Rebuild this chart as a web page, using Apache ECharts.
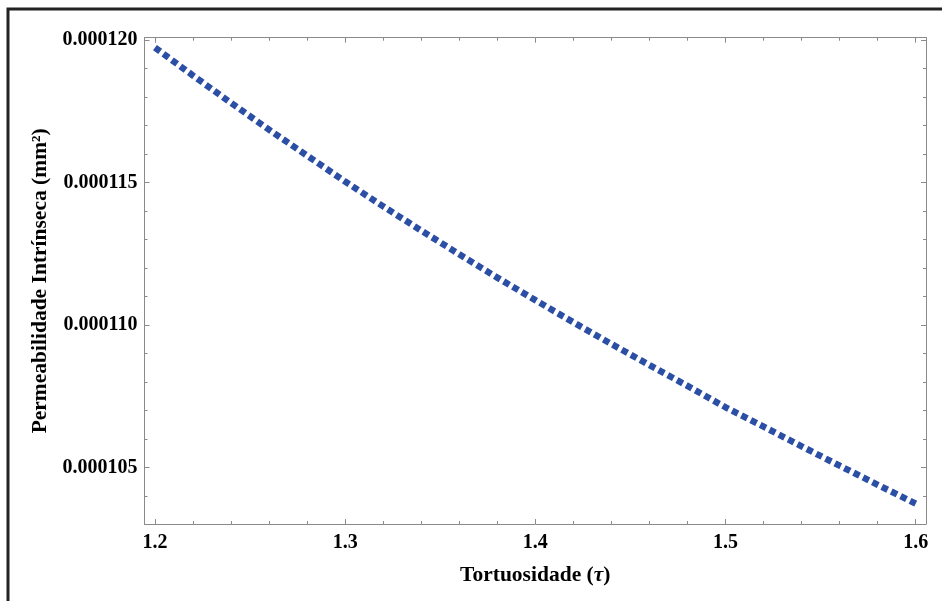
<!DOCTYPE html>
<html>
<head>
<meta charset="utf-8">
<script src="https://cdn.jsdelivr.net/npm/echarts@6/dist/echarts.min.js"></script>
<style>
  html, body { margin: 0; padding: 0; background: #fff; }
  #chart { width: 942px; height: 601px; }
</style>
</head>
<body>
<div id="chart"></div>
<script>
// tortuosidade (tau) e permeabilidade intrinseca (mm2)
const tau = [1.20, 1.22, 1.24, 1.26, 1.28, 1.30, 1.32, 1.34, 1.36, 1.38, 1.40,
             1.42, 1.44, 1.46, 1.48, 1.50, 1.52, 1.54, 1.56, 1.58, 1.60];
const perm = [0.00011974, 0.00011876, 0.00011780, 0.00011686, 0.00011595, 0.00011504,
              0.00011417, 0.00011332, 0.00011249, 0.00011167, 0.00011088, 0.00011010,
              0.00010934, 0.00010860, 0.00010787, 0.00010712, 0.00010644, 0.00010575,
              0.00010507, 0.00010440, 0.00010374];

const xMajor = [1.2, 1.3, 1.4, 1.5, 1.6];
const xMinor = [1.22, 1.24, 1.26, 1.28, 1.32, 1.34, 1.36, 1.38, 1.42, 1.44, 1.46, 1.48,
                1.52, 1.54, 1.56, 1.58];
const yMajor = [0.000105, 0.000110, 0.000115, 0.000120];
const yMinor = [0.000104, 0.000106, 0.000107, 0.000108, 0.000109, 0.000111, 0.000112,
                0.000113, 0.000114, 0.000116, 0.000117, 0.000118, 0.000119];

const xMin = 1.1945, xMax = 1.6054;
const yMin = 0.000103025, yMax = 0.000120088;

const frameColor = '#8a8a8a';
const labelFont = {
  color: '#000',
  fontFamily: 'Liberation Serif',
  fontWeight: 'bold',
  fontSize: 20
};
const nameFont = {
  color: '#000',
  fontFamily: 'Liberation Serif',
  fontWeight: 'bold',
  fontSize: 21.5
};

var myChart = echarts.init(document.getElementById('chart'));

function xAx(pos, vals, len, withLine, withLabel) {
  return {
    type: 'value',
    position: pos,
    min: xMin,
    max: xMax,
    splitLine: { show: false },
    axisLine: { show: withLine, onZero: false, lineStyle: { color: frameColor, width: 1 } },
    axisTick: { show: true, inside: true, length: len, customValues: vals,
                lineStyle: { color: frameColor, width: 1 } },
    axisLabel: withLabel ? Object.assign({
      show: true, customValues: xMajor, margin: 9,
      formatter: v => v.toFixed(1)
    }, labelFont) : { show: false }
  };
}

function yAx(pos, vals, len, withLine, withLabel) {
  return {
    type: 'value',
    position: pos,
    min: yMin,
    max: yMax,
    splitLine: { show: false },
    axisLine: { show: withLine, onZero: false, lineStyle: { color: frameColor, width: 1 } },
    axisTick: { show: true, inside: true, length: len, customValues: vals,
                lineStyle: { color: frameColor, width: 1 } },
    axisLabel: withLabel ? Object.assign({
      show: true, customValues: yMajor, margin: 7,
      formatter: v => v.toFixed(6)
    }, labelFont) : { show: false }
  };
}

const xMain = xAx('bottom', xMajor, 5, true, true);
xMain.name = 'Tortuosidade ({t|\u03c4})';
xMain.nameLocation = 'middle';
xMain.nameGap = 40;
xMain.nameTextStyle = Object.assign({
  rich: { t: Object.assign({}, nameFont, { fontStyle: 'italic' }) }
}, nameFont);

const yMain = yAx('left', yMajor, 5, true, true);
yMain.name = 'Permeabilidade Intr\u00ednseca (mm\u00b2)';
yMain.nameLocation = 'middle';
yMain.nameGap = 92;
yMain.nameRotate = 90;
yMain.nameTextStyle = nameFont;

var option = {
  animation: false,
  backgroundColor: '#fff',
  grid: {
    left: 144.5,
    right: 16,
    top: 37.7,
    bottom: 77,
    outerBoundsMode: 'none',
    containLabel: false
  },
  graphic: [{
    type: 'rect',
    shape: { x: 8, y: 9, width: 2000, height: 2000 },
    style: { fill: 'none', stroke: '#222', lineWidth: 3 },
    silent: true
  }],
  xAxis: [
    xMain,
    xAx('bottom', xMinor, 3, false, false),
    xAx('top', xMajor, 5, true, false),
    xAx('top', xMinor, 3, false, false)
  ],
  yAxis: [
    yMain,
    yAx('left', yMinor, 3, false, false),
    yAx('right', yMajor, 5, true, false),
    yAx('right', yMinor, 3, false, false)
  ],
  series: [{
    type: 'line',
    data: tau.map((t, i) => [t, perm[i]]),
    showSymbol: false,
    smooth: false,
    lineStyle: {
      color: '#2c4fa6',
      width: 6.5,
      type: [6.5, 4],
      cap: 'butt'
    },
    itemStyle: { color: '#2c4fa6' }
  }]
};

myChart.setOption(option);
</script>
</body>
</html>
